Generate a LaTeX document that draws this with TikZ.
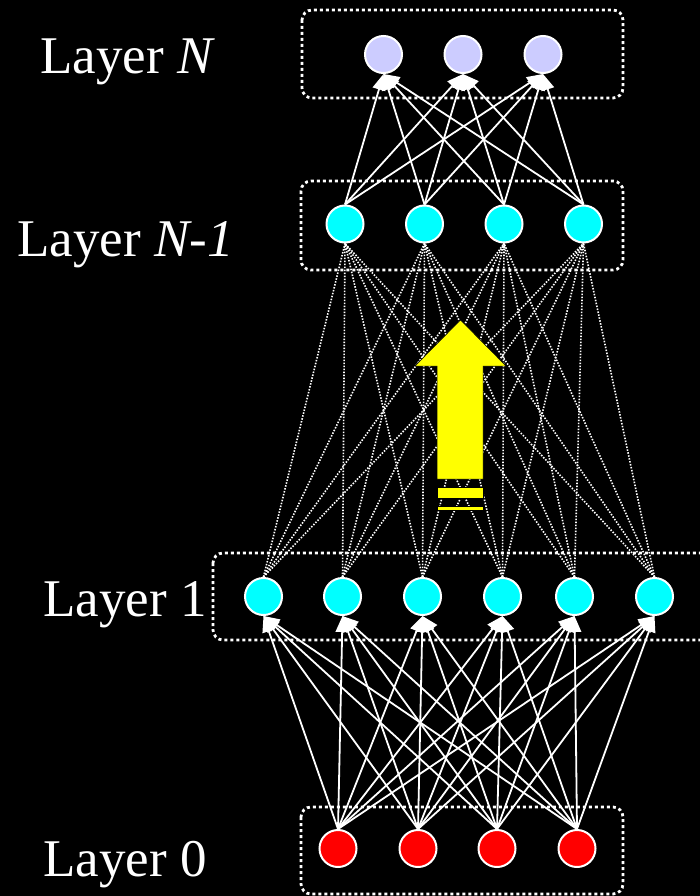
\documentclass[tikz,border=0pt]{standalone}
\usepackage{fontspec}
\setmainfont{Liberation Serif}
\usetikzlibrary{arrows.meta}
\definecolor{lavender}{HTML}{CCCCFF}
\definecolor{neurcyan}{HTML}{00FFFF}
\definecolor{neurred}{HTML}{FF0000}
\definecolor{arrowyellow}{HTML}{FFFF00}
\begin{document}
\begin{tikzpicture}[x=1pt,y=-1pt,
  neuron/.style={circle,draw=white,line width=2pt,minimum size=37pt,inner sep=0pt},
  layerbox/.style={draw=white,line width=2.8pt,dash pattern=on 3pt off 3pt,rounded corners=10pt},
  conn/.style={white,line width=1.8pt,-{Triangle[length=16pt,width=13pt]}},
  dotconn/.style={white,line width=1.6pt,dash pattern=on 1.5pt off 1.5pt},
  lbl/.style={text=white,font=\fontsize{53}{60}\selectfont,anchor=base west,inner sep=0pt}]
\fill[black] (0,0) rectangle (700,896);
\useasboundingbox (0,0) rectangle (700,896);

% layer boxes
\draw[layerbox] (302,10) rectangle (623,98);
\draw[layerbox] (301,181) rectangle (623,270);
\draw[layerbox] (213,553) rectangle (712,640);
\draw[layerbox] (301,807) rectangle (623,894);

% labels
\node[lbl] (lN) at (40,74) {Layer \textit{N}};
\node[lbl] (lN1) at (17,256) {Layer \textit{N-1}};
\node[lbl] (l1) at (43,616) {Layer 1};
\node[lbl] (l0) at (43,876) {Layer 0};

% neurons
\foreach \i/\x in {1/383.5,2/463,3/543}
  \node[neuron,fill=lavender] (n\i) at (\x,54.5) {};
\foreach \i/\x in {1/345,2/424.5,3/504,4/583.5}
  \node[neuron,fill=neurcyan] (m\i) at (\x,224) {};
\foreach \i/\x in {1/263.5,2/342.5,3/422.5,4/502.5,5/574.5,6/654.5}
  \node[neuron,fill=neurcyan] (a\i) at (\x,596.5) {};
\foreach \i/\x in {1/338,2/418,3/497,4/577}
  \node[neuron,fill=neurred] (b\i) at (\x,848.5) {};

% connections layer 0 -> layer 1
\foreach \i in {1,...,4}
  \foreach \j in {1,...,6}
    \draw[conn] (b\i.north) -- (a\j.south);

% connections layer 1 -> layer N-1 (dotted)
\foreach \i in {1,...,6}
  \foreach \j in {1,...,4}
    \draw[dotconn] (a\i.north) -- (m\j.south);

% connections layer N-1 -> layer N
\foreach \i in {1,...,4}
  \foreach \j in {1,...,3}
    \draw[conn] (m\i.north) -- (n\j.south);

% big yellow arrow
\filldraw[fill=arrowyellow,draw=black,line width=0.5pt]
  (437,479) -- (437,366) -- (415,366) -- (460.5,320) -- (506,366) -- (483,366) -- (483,479) -- cycle;
\filldraw[fill=arrowyellow,draw=black,line width=0.5pt] (437,487) rectangle (483,498);
\filldraw[fill=arrowyellow,draw=black,line width=0.5pt] (437,506) rectangle (483,510);
\end{tikzpicture}
\end{document}
